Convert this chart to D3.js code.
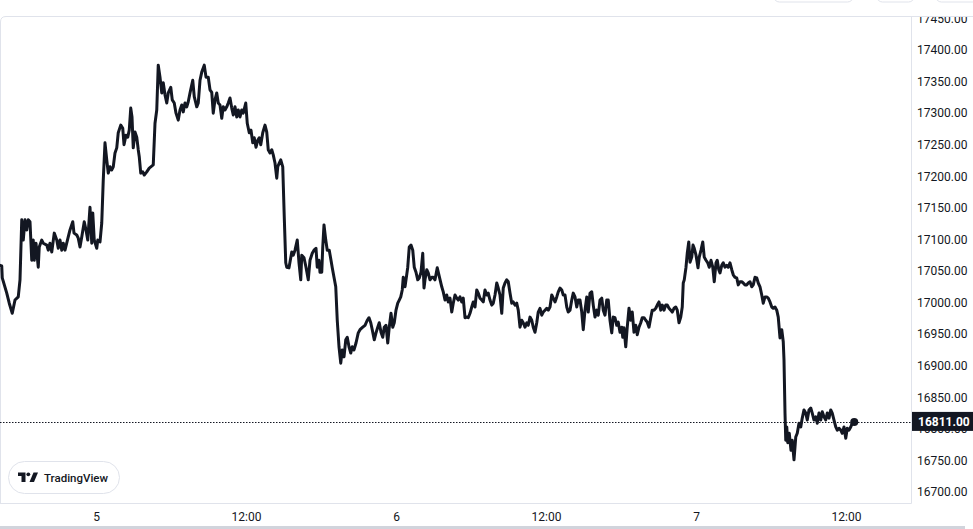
<!DOCTYPE html>
<html>
<head>
<meta charset="utf-8">
<script src="https://cdn.jsdelivr.net/npm/d3@7"></script>
<style>
  html, body { margin: 0; padding: 0; background: #ffffff; }
  svg { display: block; font-family: Roboto, "Noto Sans", sans-serif; }
</style>
</head>
<body>
<svg id="chart" width="973" height="529"></svg>
<script>
// ---- data (hours relative to day 5 00:00, price values) ----
const hours = [
  -7.68,-7.54,-7.50,-7.14,-6.94,-6.70,-6.48,-6.22,-6.08,-5.94,
  -5.82,-5.68,-5.54,-5.42,-5.28,-5.14,-5.02,-4.94,-4.80,-4.62,
  -4.54,-4.34,-4.22,-3.94,-3.82,-3.68,-3.54,-3.34,-3.14,-3.02,
  -2.88,-2.74,-2.62,-2.48,-2.22,-2.08,-1.86,-1.76,-1.54,-1.42,
  -1.28,-1.14,-0.94,-0.80,-0.66,-0.48,-0.34,-0.26,-0.14,0.06,
  0.14,0.32,0.46,0.58,0.72,0.86,0.98,1.12,1.26,1.38,
  1.52,1.66,1.78,1.98,2.14,2.24,2.40,2.54,2.66,2.78,
  2.88,2.98,3.12,3.26,3.38,3.46,3.58,3.74,3.86,4.06,
  4.26,4.58,4.72,4.86,4.98,5.12,5.26,5.38,5.52,5.66,
  5.78,5.98,6.10,6.26,6.40,6.58,6.72,6.86,6.98,7.12,
  7.26,7.38,7.52,7.74,7.86,8.06,8.18,8.32,8.46,8.66,
  8.80,8.98,9.12,9.26,9.38,9.52,9.66,9.78,9.92,10.06,
  10.18,10.32,10.46,10.58,10.72,10.86,10.98,11.12,11.26,11.38,
  11.52,11.66,11.78,11.98,12.10,12.26,12.40,12.54,12.66,12.80,
  12.94,13.06,13.18,13.34,13.52,13.66,13.78,13.92,14.06,14.18,
  14.32,14.46,14.54,14.66,14.78,14.94,15.06,15.18,15.26,15.44,
  15.66,15.78,15.92,16.10,16.24,16.38,16.46,16.64,16.80,16.98,
  17.12,17.30,17.44,17.60,17.70,17.84,17.92,18.06,18.14,18.24,
  18.38,18.50,18.66,18.80,18.90,19.04,19.18,19.30,19.44,19.58,
  19.70,19.84,19.98,20.10,20.24,20.38,20.50,20.64,20.80,20.98,
  21.12,21.34,21.52,21.70,21.84,21.98,22.10,22.26,22.40,22.54,
  22.66,22.80,22.94,23.06,23.20,23.34,23.46,23.60,23.74,23.86,
  24.00,24.14,24.26,24.38,24.50,24.58,24.72,24.80,24.94,25.06,
  25.20,25.34,25.46,25.60,25.74,25.86,26.00,26.14,26.24,26.32,
  26.46,26.58,26.72,26.86,26.98,27.12,27.30,27.66,27.78,27.92,
  28.06,28.18,28.32,28.46,28.58,28.72,28.86,28.98,29.12,29.26,
  29.38,29.52,29.66,29.78,29.92,30.06,30.18,30.32,30.46,30.58,
  30.72,30.86,30.98,31.12,31.26,31.38,31.52,31.66,31.78,31.92,
  32.06,32.18,32.32,32.46,32.58,32.72,32.86,32.98,33.12,33.26,
  33.38,33.52,33.66,33.78,33.92,34.06,34.18,34.32,34.46,34.58,
  34.72,34.86,34.98,35.12,35.26,35.38,35.52,35.66,35.78,35.92,
  36.06,36.18,36.32,36.46,36.58,36.72,36.86,36.98,37.12,37.26,
  37.38,37.52,37.66,37.78,37.92,38.06,38.18,38.32,38.46,38.58,
  38.72,38.86,38.98,39.12,39.26,39.38,39.52,39.66,39.78,39.92,
  40.06,40.18,40.32,40.46,40.58,40.72,40.86,40.98,41.12,41.26,
  41.38,41.52,41.66,41.78,41.92,42.06,42.14,42.24,42.38,42.50,
  42.64,42.78,42.90,43.04,43.18,43.30,43.44,43.58,43.70,43.84,
  43.98,44.10,44.24,44.38,44.50,44.64,44.78,44.90,45.04,45.18,
  45.30,45.44,45.58,45.70,45.84,45.98,46.10,46.24,46.38,46.50,
  46.64,46.78,46.90,46.98,47.06,47.20,47.30,47.42,47.52,47.66,
  47.76,47.86,48.00,48.16,48.26,48.40,48.54,48.66,48.80,48.94,
  49.06,49.20,49.34,49.46,49.60,49.70,49.82,49.92,50.06,50.18,
  50.32,50.46,50.58,50.72,50.86,50.98,51.12,51.26,51.38,51.52,
  51.66,51.78,51.92,52.06,52.18,52.32,52.46,52.58,52.72,52.86,
  52.98,53.12,53.26,53.38,53.52,53.66,53.78,53.92,54.06,54.18,
  54.32,54.46,54.58,54.72,54.86,54.98,55.04,55.12,55.18,55.26,
  55.34,55.46,55.60,55.70,55.84,55.98,56.10,56.24,56.38,56.50,
  56.64,56.78,56.90,57.04,57.18,57.30,57.44,57.58,57.70,57.84,
  57.98,58.10,58.24,58.38,58.50,58.64,58.78,58.90,59.04,59.18,
  59.30,59.44,59.58,59.70,59.84,59.98,60.10,60.24,60.38,60.50,
  60.66
];
const prices = [
  17059,17058,17039,17015,16999,16983,17004,17009,17036,17131,
  17099,17131,17115,17131,17128,17067,17099,17067,17094,17056,
  17088,17099,17094,17091,17083,17094,17080,17110,17099,17086,
  17099,17083,17094,17083,17104,17115,17128,17110,17107,17102,
  17088,17104,17128,17115,17099,17151,17094,17142,17099,17086,
  17099,17096,17126,17194,17253,17226,17205,17215,17210,17215,
  17237,17245,17269,17281,17276,17250,17265,17262,17273,17308,
  17294,17245,17270,17262,17242,17231,17205,17207,17202,17207,
  17213,17218,17284,17305,17376,17357,17332,17348,17329,17316,
  17332,17341,17321,17316,17300,17289,17305,17313,17302,17316,
  17310,17318,17332,17352,17326,17310,17316,17352,17365,17376,
  17357,17357,17337,17333,17300,17321,17332,17316,17313,17292,
  17310,17305,17310,17316,17324,17308,17297,17310,17294,17305,
  17294,17305,17300,17316,17284,17269,17273,17253,17261,17246,
  17257,17261,17250,17269,17281,17270,17242,17237,17242,17234,
  17221,17197,17215,17221,17226,17215,17136,17063,17056,17055,
  17080,17075,17083,17099,17063,17036,17075,17071,17056,17036,
  17067,17078,17083,17086,17056,17067,17048,17048,17088,17123,
  17099,17083,17083,17067,17055,17040,17025,16972,16930,16904,
  16925,16914,16941,16945,16930,16920,16930,16925,16936,16952,
  16957,16961,16964,16972,16976,16968,16957,16941,16952,16961,
  16968,16953,16945,16961,16964,16936,16961,16983,16961,16968,
  16988,16999,17004,17009,17020,17040,17025,17036,17056,17088,
  17091,17083,17056,17048,17036,17039,17048,17078,17023,17036,
  17052,17047,17036,17040,17040,17036,17055,17025,17017,17004,
  17012,17001,17007,16985,16999,17012,17007,17004,17009,17001,
  17007,16976,16977,16976,16983,16993,17001,16993,17020,17015,
  17007,17004,17001,17020,17012,17015,17004,16996,16999,17012,
  17031,17023,17012,16983,17023,17031,17036,17033,17015,16999,
  17001,16996,16999,16988,16961,16972,16968,16961,16968,16964,
  16977,16972,16961,16953,16968,16985,16991,16980,16985,16988,
  16991,16988,16993,17012,17007,17001,17009,17017,17023,17020,
  17012,17012,16993,16985,16988,17004,17015,17009,16993,17004,
  17004,16985,16957,16988,17009,16985,17015,17017,16996,16977,
  16988,16980,17004,17007,16988,16980,17004,17004,16972,16952,
  16977,16976,16964,16969,16953,16961,16945,16960,16930,16961,
  16991,16972,16985,16953,16964,16949,16961,16968,16976,16976,
  16972,16969,16961,16976,16988,16988,16991,16996,17001,16988,
  16996,16988,16996,16996,16991,16988,16985,16991,16993,16988,
  16968,16977,16993,17031,17036,17056,17078,17096,17064,17072,
  17091,17086,17075,17055,17072,17083,17096,17072,17067,17063,
  17056,17067,17056,17033,17063,17067,17052,17047,17059,17063,
  17056,17059,17056,17063,17052,17044,17040,17039,17028,17033,
  17033,17031,17028,17028,17031,17033,17025,17028,17040,17039,
  17031,17025,17012,16999,17009,17009,17007,17001,16993,16991,
  16993,16988,16977,16944,16957,16938,16909,16825,16782,16803,
  16778,16793,16766,16782,16751,16787,16793,16809,16803,16817,
  16830,16825,16814,16830,16833,16825,16814,16819,16809,16825,
  16814,16827,16819,16814,16825,16817,16830,16825,16814,16803,
  16798,16801,16798,16793,16803,16785,16801,16798,16803,16809,
  16811
];
const lastPrice = 16811;
const yTicks = [16700,16750,16800,16850,16900,16950,17000,17050,17100,17150,17200,17250,17300,17350,17400,17450];
const xTickHours = [0, 12, 24, 36, 48, 60];
const xTickLabels = ["5", "12:00", "6", "12:00", "7", "12:00"];
const brandText = "TradingView";

// ---- layout ----
const W = 973, H = 529;
const plotLeft = 0, plotRight = 911, plotTop = 16, plotBottom = 503;
const ink = "#131722", border = "#e0e3eb";

const svg = d3.select("#chart");

const x = d3.scaleLinear().domain([-7.68, 65.2]).range([plotLeft, plotRight]);
const y = d3.scaleLinear().domain([16700, 17400]).range([492, 50]);

const data = hours.map((h, i) => ({ h, p: prices[i] }));

// top fragments of toolbar buttons
[[773, 80], [876, 38], [935, 60]].forEach(([bx, bw]) => {
  svg.append("rect").attr("x", bx + 0.5).attr("y", -30).attr("width", bw).attr("height", 32)
    .attr("rx", 6).attr("fill", "#fff").attr("stroke", border);
});

// frame lines
svg.append("path")
  .attr("d", `M${plotLeft + 0.5},${plotBottom} L${plotLeft + 0.5},${plotTop + 6} Q${plotLeft + 0.5},${plotTop + 0.5} ${plotLeft + 6},${plotTop + 0.5} L${W},${plotTop + 0.5}`)
  .attr("fill", "none").attr("stroke", border);
svg.append("line").attr("x1", plotRight + 0.5).attr("x2", plotRight + 0.5)
  .attr("y1", plotTop).attr("y2", plotBottom + 0.5).attr("stroke", border);
svg.append("line").attr("x1", 0).attr("x2", plotRight + 0.5)
  .attr("y1", plotBottom + 0.5).attr("y2", plotBottom + 0.5).attr("stroke", border);

// bottom scrollbar strip
svg.append("rect").attr("x", 0).attr("y", 526).attr("width", 965).attr("height", 3).attr("fill", "#d1d4dc");

// clip
const defs = svg.append("defs");
defs.append("clipPath").attr("id", "plotClip").append("rect")
  .attr("x", plotLeft).attr("y", plotTop + 1).attr("width", plotRight - plotLeft).attr("height", plotBottom - plotTop - 1);
defs.append("clipPath").attr("id", "axisClip").append("rect")
  .attr("x", plotRight + 1).attr("y", plotTop + 1).attr("width", W - plotRight).attr("height", plotBottom - plotTop);

// y axis
const yAxisG = svg.append("g").attr("clip-path", "url(#axisClip)")
  .append("g").attr("transform", `translate(${plotRight},0)`)
  .call(d3.axisRight(y).tickValues(yTicks).tickSize(0).tickPadding(6).tickFormat(d3.format(".2f")));
yAxisG.select(".domain").remove();
yAxisG.selectAll("text").attr("fill", ink).style("font-size", "12px").style("font-family", "Roboto, sans-serif");

// x axis
const xAxisG = svg.append("g").attr("transform", `translate(0,${plotBottom})`)
  .call(d3.axisBottom(x).tickValues(xTickHours).tickSize(0).tickPadding(9)
    .tickFormat((d, i) => xTickLabels[i]));
xAxisG.select(".domain").remove();
xAxisG.selectAll("text").attr("fill", ink).style("font-size", "12px").style("font-family", "Roboto, sans-serif");

// plot group
const plot = svg.append("g").attr("clip-path", "url(#plotClip)");

// last price dotted line
plot.append("line")
  .attr("x1", plotLeft).attr("x2", plotRight)
  .attr("y1", Math.round(y(lastPrice)) + 0.5).attr("y2", Math.round(y(lastPrice)) + 0.5)
  .attr("stroke", ink).attr("stroke-width", 1).attr("stroke-dasharray", "1.5,1.5");

// price line
const line = d3.line().x(d => x(d.h)).y(d => y(d.p));
plot.append("path").datum(data)
  .attr("d", line)
  .attr("fill", "none").attr("stroke", ink).attr("stroke-width", 3)
  .attr("stroke-linejoin", "round").attr("stroke-linecap", "round");

// end dot
const lastD = data[data.length - 1];
plot.append("circle").attr("cx", x(lastD.h)).attr("cy", y(lastD.p)).attr("r", 4).attr("fill", ink);

// last price label
const ly = y(lastPrice);
svg.append("rect").attr("x", plotRight + 1).attr("y", ly - 10).attr("width", W - plotRight).attr("height", 19)
  .attr("fill", ink);
svg.append("text").attr("x", plotRight + 7).attr("y", ly).attr("dy", "0.35em")
  .attr("fill", "#ffffff").style("font-size", "12px").style("font-weight", "700")
  .style("font-family", "Roboto, sans-serif").text(d3.format(".2f")(lastPrice));

// TradingView badge
const badge = svg.append("g").attr("transform", "translate(8,461)");
badge.append("rect").attr("x", 0.5).attr("y", 0.5).attr("width", 111).attr("height", 32).attr("rx", 16)
  .attr("fill", "#ffffff").attr("stroke", border);
const logo = badge.append("g").attr("fill", ink);
logo.append("path").attr("d", "M10,11.5 H17.5 V21 H13.5 V15 H10 Z");
logo.append("circle").attr("cx", 20.3).attr("cy", 13.3).attr("r", 1.9);
logo.append("path").attr("d", "M25.5,11.5 H30 L26,21 H21.5 Z");
badge.append("text").attr("x", 36).attr("y", 16.5).attr("dy", "0.35em")
  .attr("fill", ink).style("font-size", "11.5px").style("font-weight", "500")
  .style("font-family", "Roboto, sans-serif").text(brandText);
</script>
</body>
</html>
